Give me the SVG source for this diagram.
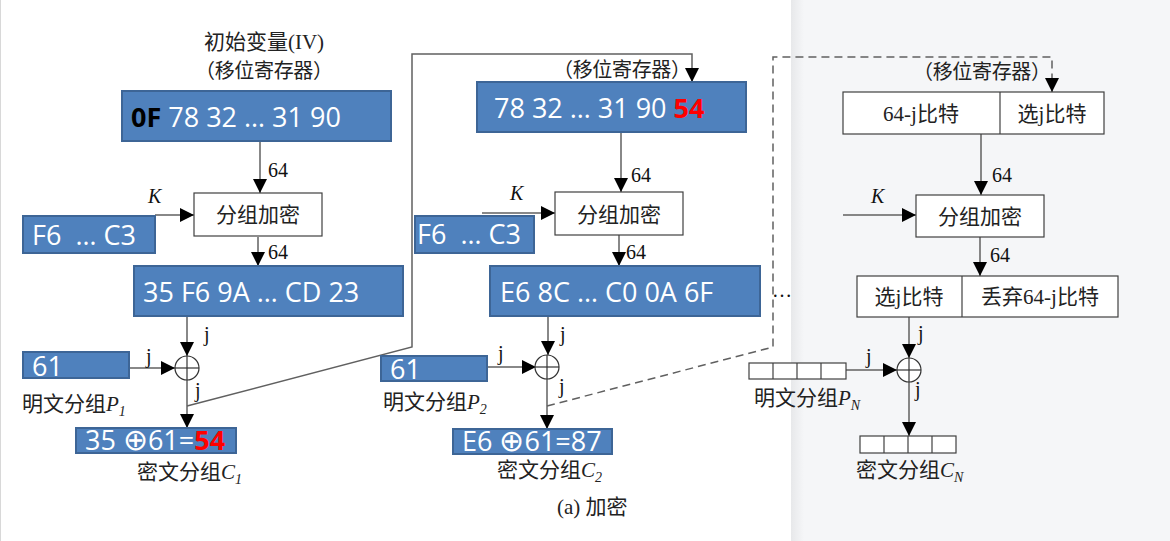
<svg xmlns="http://www.w3.org/2000/svg" width="1170" height="541" viewBox="0 0 1170 541">
<defs>
<style>
.blue{fill:#4f81bd;stroke:#3d6596;stroke-width:2}
.wbox{fill:#fff;stroke:#404040;stroke-width:1.2}
.bt{font-family:"Open Sans","Liberation Sans",sans-serif;font-size:27px;fill:#fff}
.cn{font-family:"Liberation Serif","Noto Sans CJK SC",serif;font-size:21px;fill:#222}
.reg{font-family:"Noto Sans CJK SC",sans-serif;font-size:20px;fill:#222}
.lab{font-family:"Liberation Serif",serif;font-size:20px;fill:#111}
.it{font-style:italic}
.ln{stroke:#606060;stroke-width:1.5;fill:none}
.arr{marker-end:url(#ah)}
.dash{stroke-dasharray:8 5}
.xor{fill:#fff;stroke:#333;stroke-width:1.2}
.op{font-family:"DejaVu Sans",sans-serif;font-size:30px;font-weight:200}
</style>
<marker id="ah" markerUnits="userSpaceOnUse" markerWidth="14" markerHeight="14" viewBox="0 0 14 14" refX="14" refY="7" orient="auto">
<path d="M0,0 L14,7 L0,14 z" fill="#000"/>
</marker>
<linearGradient id="bg" gradientUnits="userSpaceOnUse" x1="790" y1="0" x2="804" y2="0">
<stop offset="0" stop-color="#e6e7e9"/>
<stop offset="1" stop-color="#f5f6f8"/>
</linearGradient>
</defs>
<rect x="0" y="0" width="1170" height="541" fill="#fff"/>
<rect x="791" y="0" width="379" height="541" fill="url(#bg)"/>
<line x1="0.5" y1="0" x2="0.5" y2="541" stroke="#d8d8d8" stroke-width="1"/>

<g id="connectors">
<line class="ln arr" x1="260" y1="142" x2="260" y2="193"/>
<line class="ln arr" x1="155" y1="215" x2="194" y2="215"/>
<line class="ln arr" x1="258" y1="237" x2="258" y2="266"/>
<line class="ln arr" x1="187" y1="317" x2="187" y2="356"/>
<line class="ln arr" x1="129" y1="368" x2="175" y2="368"/>
<line class="ln arr" x1="187" y1="380" x2="187" y2="428"/>
<polyline class="ln arr" points="187,406 412,347 412,54 692,54 692,82"/>
<line class="ln arr" x1="621" y1="132" x2="621" y2="192"/>
<line class="ln arr" x1="482" y1="213" x2="555" y2="213"/>
<line class="ln arr" x1="619" y1="235" x2="619" y2="266"/>
<line class="ln arr" x1="548" y1="317" x2="548" y2="355"/>
<line class="ln arr" x1="487" y1="367" x2="536" y2="367"/>
<line class="ln arr" x1="547" y1="379" x2="547" y2="429"/>
<polyline class="ln dash" points="547,406 773,347 773,57 1052,57 1052,78"/>
<line class="ln arr" x1="1052" y1="78" x2="1052" y2="92"/>
<line class="ln arr" x1="981" y1="134" x2="981" y2="195"/>
<line class="ln arr" x1="843" y1="215" x2="916" y2="215"/>
<line class="ln arr" x1="980" y1="237" x2="980" y2="276"/>
<line class="ln arr" x1="909" y1="317" x2="909" y2="358"/>
<line class="ln arr" x1="846" y1="370" x2="897" y2="370"/>
<line class="ln arr" x1="909" y1="382" x2="909" y2="436"/>
</g>

<g id="labels">
<text class="lab" x="268" y="177">64</text>
<text class="lab it" x="148" y="203">K</text>
<text class="lab" x="268" y="259">64</text>
<text class="lab" x="204" y="341">j</text>
<text class="lab" x="146" y="363">j</text>
<text class="lab" x="195" y="397">j</text>
<text class="lab" x="631" y="182">64</text>
<text class="lab it" x="510" y="200">K</text>
<text class="lab" x="626" y="259">64</text>
<text class="lab" x="560" y="341">j</text>
<text class="lab" x="498" y="360">j</text>
<text class="lab" x="559" y="393">j</text>
<text class="lab" x="772" y="297" font-size="14">…</text>
<text class="lab" x="992" y="182">64</text>
<text class="lab it" x="871" y="203">K</text>
<text class="lab" x="990" y="262">64</text>
<text class="lab" x="918" y="340">j</text>
<text class="lab" x="866" y="363">j</text>
<text class="lab" x="915" y="396">j</text>
</g>

<g id="iv-title">
<text class="cn" x="264" y="49" text-anchor="middle" font-size="22">初始变量(IV)</text>
<text class="reg" x="195" y="78" textLength="138" lengthAdjust="spacing">（移位寄存器）</text>
</g>

<g id="iv-register">
<rect class="blue" x="122" y="91" width="269" height="50"/>
<text class="bt" x="131" y="127"><tspan fill="#000" font-weight="bold">0F</tspan> 78 32 … 31 90</text>
</g>

<g id="encrypt-1">
<rect class="wbox" x="194" y="193" width="128" height="43"/>
<text class="cn" x="258" y="222" text-anchor="middle" font-size="22">分组加密</text>
</g>

<g id="key-1">
<rect class="blue" x="23" y="216" width="132" height="37"/>
<text class="bt" x="32" y="245" xml:space="preserve">F6  … C3</text>
</g>

<g id="output-1">
<rect class="blue" x="134" y="266" width="269" height="50"/>
<text class="bt" x="143" y="302">35 F6 9A … CD 23</text>
</g>

<g id="xor-1">
<circle class="xor" cx="187" cy="368" r="12"/>
<line x1="175" y1="368" x2="199" y2="368" stroke="#333" stroke-width="1.2"/>
<line x1="187" y1="356" x2="187" y2="380" stroke="#333" stroke-width="1.2"/>
</g>

<g id="plain-1">
<rect class="blue" x="23" y="352" width="106" height="26"/>
<text class="bt" x="32" y="376">61</text>
<text class="cn" x="22" y="411" font-size="22">明文分组<tspan font-family="Liberation Serif" font-style="italic">P</tspan><tspan font-family="Liberation Serif" font-style="italic" font-size="14" dy="5">1</tspan></text>
</g>

<g id="cipher-1">
<rect class="blue" x="76" y="428" width="160" height="25"/>
<text class="bt" x="85" y="450">35 <tspan class="op">⊕</tspan>61=<tspan fill="#ff0000" font-weight="bold">54</tspan></text>
<text class="cn" x="137" y="479" font-size="22">密文分组<tspan font-family="Liberation Serif" font-style="italic">C</tspan><tspan font-family="Liberation Serif" font-style="italic" font-size="14" dy="5">1</tspan></text>
</g>

<g id="register-2">
<text class="reg" x="553" y="77" textLength="138" lengthAdjust="spacing">（移位寄存器）</text>
<rect class="blue" x="477" y="82" width="269" height="50"/>
<text class="bt" x="494" y="118">78 32 … 31 90 <tspan fill="#ff0000" font-weight="bold">54</tspan></text>
</g>

<g id="encrypt-2">
<rect class="wbox" x="555" y="192" width="128" height="43"/>
<text class="cn" x="619" y="222" text-anchor="middle" font-size="22">分组加密</text>
</g>

<g id="key-2">
<rect class="blue" x="415" y="216" width="119" height="37"/>
<text class="bt" x="417" y="244" xml:space="preserve">F6  … C3</text>
</g>

<g id="output-2">
<rect class="blue" x="490" y="266" width="270" height="50"/>
<text class="bt" x="500" y="302">E6 8C … C0 0A 6F</text>
</g>

<g id="xor-2">
<circle class="xor" cx="547" cy="367" r="12"/>
<line x1="535" y1="367" x2="559" y2="367" stroke="#333" stroke-width="1.2"/>
<line x1="547" y1="355" x2="547" y2="379" stroke="#333" stroke-width="1.2"/>
</g>

<g id="plain-2">
<rect class="blue" x="381" y="356" width="106" height="25"/>
<text class="bt" x="390" y="379">61</text>
<text class="cn" x="383" y="409" font-size="22">明文分组<tspan font-family="Liberation Serif" font-style="italic">P</tspan><tspan font-family="Liberation Serif" font-style="italic" font-size="14" dy="5">2</tspan></text>
</g>

<g id="cipher-2">
<rect class="blue" x="453" y="429" width="159" height="25"/>
<text class="bt" x="462" y="451">E6 <tspan class="op">⊕</tspan>61=87</text>
<text class="cn" x="497" y="477" font-size="22">密文分组<tspan font-family="Liberation Serif" font-style="italic">C</tspan><tspan font-family="Liberation Serif" font-style="italic" font-size="14" dy="5">2</tspan></text>
</g>

<g id="caption">
<text class="cn" x="557" y="514">(a) 加密</text>
</g>

<g id="register-n">
<text class="reg" x="913" y="79" textLength="138" lengthAdjust="spacing">（移位寄存器）</text>
<rect class="wbox" x="843" y="92" width="261" height="42"/>
<line x1="1000" y1="92" x2="1000" y2="134" stroke="#404040" stroke-width="1.2"/>
<text class="cn" x="921" y="121" text-anchor="middle" font-size="22">64-j比特</text>
<text class="cn" x="1052" y="121" text-anchor="middle" font-size="22">选j比特</text>
</g>

<g id="encrypt-n">
<rect class="wbox" x="916" y="195" width="128" height="42"/>
<text class="cn" x="980" y="224" text-anchor="middle" font-size="22">分组加密</text>
</g>

<g id="output-n">
<rect class="wbox" x="857" y="276" width="261" height="41"/>
<line x1="962" y1="276" x2="962" y2="317" stroke="#404040" stroke-width="1.2"/>
<text class="cn" x="909" y="304" text-anchor="middle" font-size="22">选j比特</text>
<text class="cn" x="1040" y="304" text-anchor="middle" font-size="22">丢弃64-j比特</text>
</g>

<g id="xor-n">
<circle class="xor" cx="909" cy="370" r="12"/>
<line x1="897" y1="370" x2="921" y2="370" stroke="#333" stroke-width="1.2"/>
<line x1="909" y1="358" x2="909" y2="382" stroke="#333" stroke-width="1.2"/>
</g>

<g id="plain-n">
<rect class="wbox" x="749" y="363" width="97" height="16"/>
<line x1="773" y1="363" x2="773" y2="379" stroke="#404040" stroke-width="1.2"/>
<line x1="797" y1="363" x2="797" y2="379" stroke="#404040" stroke-width="1.2"/>
<line x1="821" y1="363" x2="821" y2="379" stroke="#404040" stroke-width="1.2"/>
<text class="cn" x="754" y="405" font-size="22">明文分组<tspan font-family="Liberation Serif" font-style="italic">P</tspan><tspan font-family="Liberation Serif" font-style="italic" font-size="14" dy="5">N</tspan></text>
</g>

<g id="cipher-n">
<rect class="wbox" x="860" y="436" width="96" height="17"/>
<line x1="884" y1="436" x2="884" y2="453" stroke="#404040" stroke-width="1.2"/>
<line x1="908" y1="436" x2="908" y2="453" stroke="#404040" stroke-width="1.2"/>
<line x1="932" y1="436" x2="932" y2="453" stroke="#404040" stroke-width="1.2"/>
<text class="cn" x="856" y="477" font-size="22">密文分组<tspan font-family="Liberation Serif" font-style="italic">C</tspan><tspan font-family="Liberation Serif" font-style="italic" font-size="14" dy="5">N</tspan></text>
</g>
</svg>
